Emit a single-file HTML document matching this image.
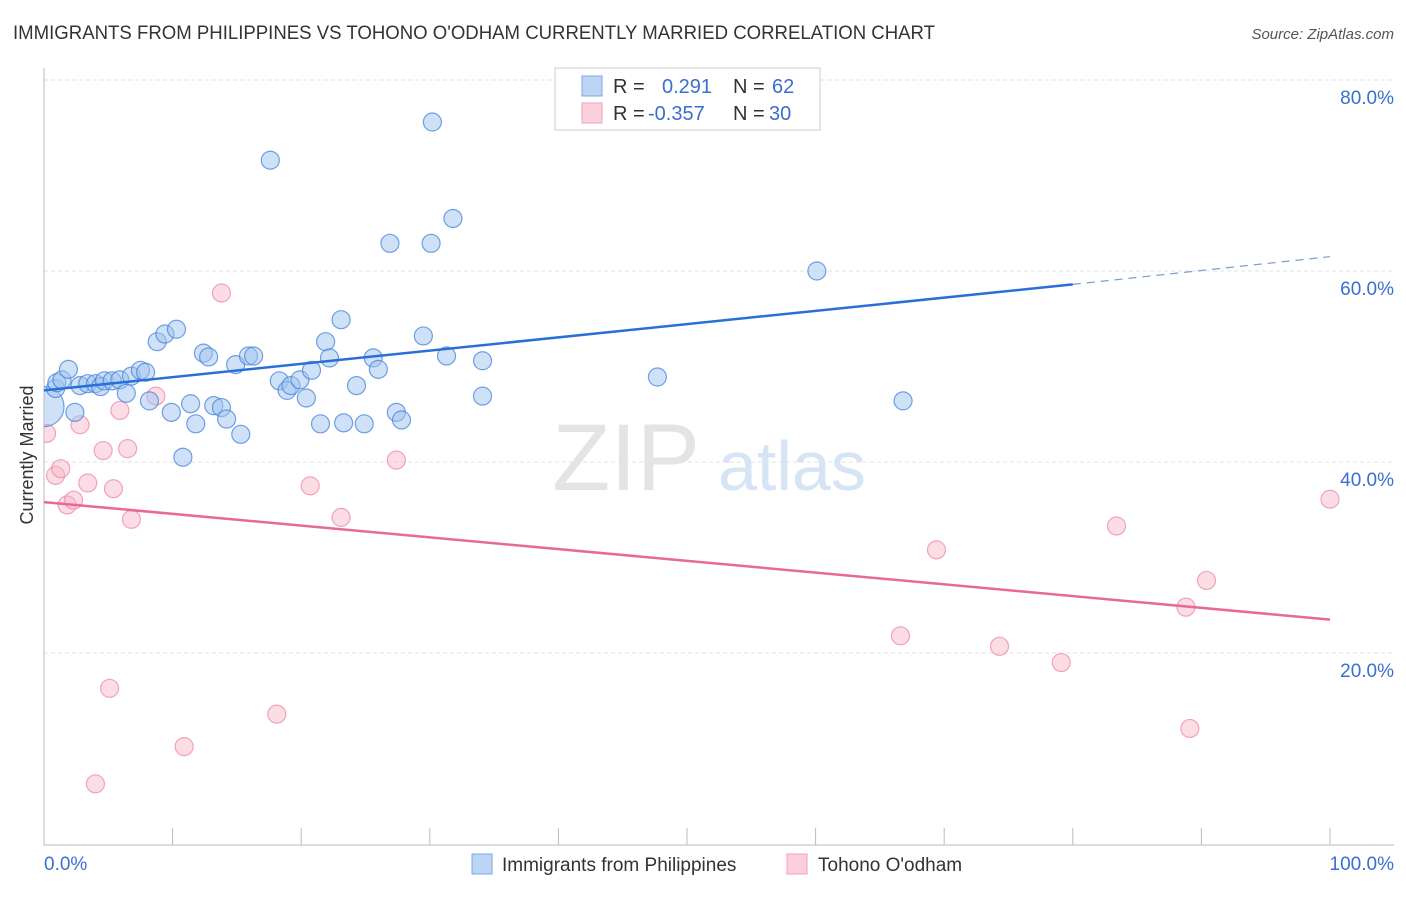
<!DOCTYPE html>
<html><head><meta charset="utf-8"><style>
body{margin:0;background:#fff;font-family:"Liberation Sans",sans-serif}
svg text{font-family:"Liberation Sans",sans-serif}
</style></head><body>
<svg width="1406" height="892">
<defs><clipPath id="plotclip"><rect x="44" y="60" width="1360" height="790"/></clipPath></defs>
<text x="13" y="39" font-size="19" fill="#333" textLength="922" lengthAdjust="spacingAndGlyphs">IMMIGRANTS FROM PHILIPPINES VS TOHONO O'ODHAM CURRENTLY MARRIED CORRELATION CHART</text>
<text x="1394" y="39" font-size="15" fill="#555" font-style="italic" text-anchor="end">Source: ZipAtlas.com</text>
<g id="grid"></g>
<text x="700" y="490" font-size="95" fill="#e4e4e4" font-family="Liberation Serif" text-anchor="end">ZIP</text>
<text x="718" y="490" font-size="70" fill="#d6e4f5">atlas</text>
<line x1="44" y1="68" x2="44" y2="845" stroke="#bbb"/>
<line x1="44" y1="845" x2="1394" y2="845" stroke="#bbb"/>
<g id="ticks"></g>
<text transform="translate(33,455) rotate(-90)" font-size="18" fill="#333" text-anchor="middle">Currently Married</text>
<text x="44" y="870" font-size="19" fill="#3a6fd0">0.0%</text>
<text x="1394" y="870" font-size="19" fill="#3a6fd0" text-anchor="end">100.0%</text>
<g id="pts" clip-path="url(#plotclip)"></g>
<g id="trends"></g>
<g>
<rect x="555" y="68" width="265" height="62" fill="#fff" stroke="#ccc"/>
<rect x="582" y="76" width="20" height="20" fill="#bcd5f5" stroke="#7aa7e6"/>
<rect x="582" y="103" width="20" height="20" fill="#fbd0dc" stroke="#f0a0b8"/>
<text x="613" y="93" font-size="20" fill="#333">R = <tspan x="662" fill="#3a6fd0">0.291</tspan><tspan x="733">N = </tspan><tspan x="772" fill="#3a6fd0">62</tspan></text>
<text x="613" y="120" font-size="20" fill="#333">R = <tspan x="648" fill="#3a6fd0">-0.357</tspan><tspan x="733">N = </tspan><tspan x="769" fill="#3a6fd0">30</tspan></text>
</g>
<g>
<rect x="472" y="854" width="20" height="20" fill="#bcd5f5" stroke="#7aa7e6"/>
<text x="502" y="871" font-size="19" fill="#333">Immigrants from Philippines</text>
<rect x="787" y="854" width="20" height="20" fill="#fbd0dc" stroke="#f0a0b8"/>
<text x="818" y="871" font-size="19" fill="#333">Tohono O'odham</text>
</g>
</svg>
<script>
const yTicks=[20,40,60,80];
const yTickLabels=["20.0%","40.0%","60.0%","80.0%"];
const xTicks=[0,10,20,30,40,50,60,70,80,90,100];
const blueX=[0,0.9,1.0,1.4,1.9,2.4,2.8,3.4,4.0,4.4,4.7,5.3,5.9,6.4,6.8,7.5,7.9,8.2,8.8,9.4,9.9,10.3,10.8,11.4,11.8,12.4,12.8,13.2,13.8,14.2,14.9,15.3,15.9,16.3,17.6,18.3,18.9,19.2,19.9,20.4,20.8,21.5,21.9,22.2,23.1,23.3,24.3,24.9,25.6,26.0,26.9,27.4,27.8,29.5,30.1,30.2,31.3,31.8,34.1,34.1,47.7,60.1,66.8];
const blueY=[45.8,47.7,48.3,48.6,49.7,45.2,48.0,48.2,48.2,47.9,48.5,48.5,48.6,47.2,49.0,49.6,49.4,46.4,52.6,53.4,45.2,53.9,40.5,46.1,44.0,51.4,51.0,45.9,45.7,44.5,50.2,42.9,51.1,51.1,71.6,48.5,47.5,48.0,48.6,46.7,49.6,44.0,52.6,50.9,54.9,44.1,48.0,44.0,50.9,49.7,62.9,45.2,44.4,53.2,62.9,75.6,51.1,65.5,46.9,50.6,48.9,60.0,46.4];
const pinkX=[0.2,0.9,1.3,1.8,2.3,2.8,3.4,4.6,5.1,5.4,5.9,6.5,6.8,8.7,10.9,13.8,18.1,20.7,23.1,27.4,4.0,69.4,66.6,74.3,79.1,83.4,88.8,90.4,89.1,100];
const pinkY=[43.0,38.6,39.3,35.5,36.0,43.9,37.8,41.2,16.3,37.2,45.4,41.4,34.0,46.9,10.2,57.7,13.6,37.5,34.2,40.2,6.3,30.8,21.8,20.7,19.0,33.3,24.8,27.6,12.1,36.1];
const blueTrend=[[0,47.5],[80,58.6]], blueDash=[[80,58.6],[100,61.5]];
const pinkTrend=[[0,35.8],[100,23.5]];
const X=p=>44+p*12.86, Y=v=>80+(80-v)*9.55;
const NS="http://www.w3.org/2000/svg";
function mk(t,a,parent){const e=document.createElementNS(NS,t);for(const k in a)e.setAttribute(k,a[k]);document.getElementById(parent).appendChild(e);return e;}
yTicks.forEach((t,i)=>{
 const l=mk('line',{x1:44,x2:1394,y1:Y(t),y2:Y(t),stroke:'#e2e2e2','stroke-dasharray':'4,3'},'grid');
 
 
 const tx=mk('text',{x:1394,y:Y(t)+24,'font-size':19,fill:'#3a6fd0','text-anchor':'end'},'grid');
 tx.textContent=yTickLabels[i];
 
 
});
xTicks.forEach(t=>{
 const l=mk('line',{x1:X(t),x2:X(t),y1:828,y2:845,stroke:'#bbb'},'ticks');
 
 
});
function pts(xs,ys,fill,stroke,name){
 xs.forEach((x,i)=>{
  const r=(name==='blue-point'&&i===0)?20:9;
  const c=mk('circle',{cx:X(x),cy:Y(ys[i]),r:r,fill:fill,stroke:stroke,'stroke-width':1.2},'pts');
  
  
 });
}
pts(pinkX,pinkY,'rgba(248,180,200,0.45)','rgba(235,130,160,0.7)','pink-point');
pts(blueX,blueY,'rgba(160,196,240,0.5)','rgba(70,130,220,0.75)','blue-point');
function line(seg,stroke,w,dash,name){
 const l=mk('line',{x1:X(seg[0][0]),y1:Y(seg[0][1]),x2:X(seg[1][0]),y2:Y(seg[1][1]),stroke:stroke,'stroke-width':w},'trends');
 if(dash)l.setAttribute('stroke-dasharray',dash);
 
 
}
line(blueTrend,'#2a6fd6',2.5,null,'blue-trend-line');
line(blueDash,'#7a9fd0',1.2,'8,6','blue-trend-extension');
line(pinkTrend,'#e8689a',2.5,null,'pink-trend-line');
</script>
</body></html>
